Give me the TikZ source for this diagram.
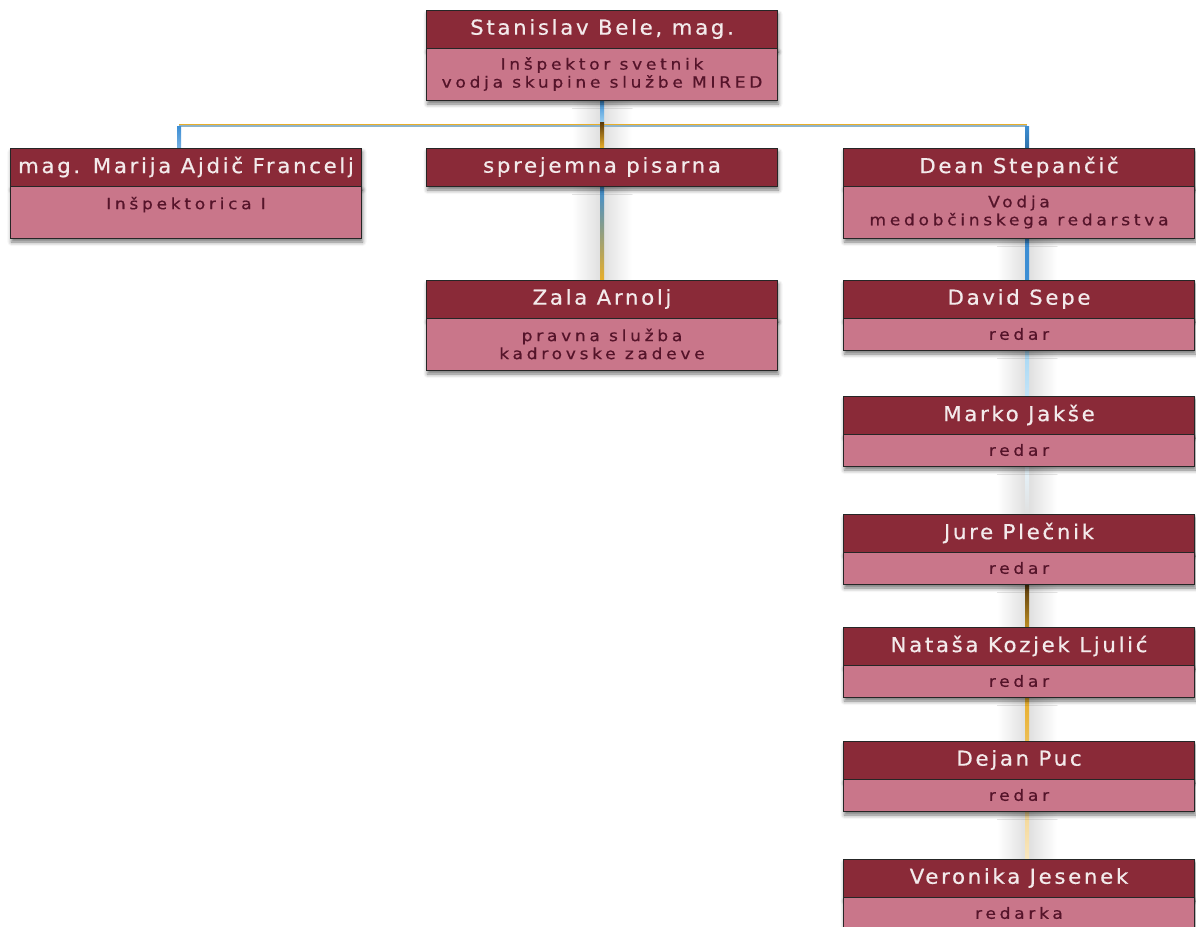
\documentclass[tikz,border=0pt]{standalone}
\usepackage{fontspec}
\newfontfamily\headfont{DejaVu Sans}[FakeStretch=1.04, FakeBold=0.6, LetterSpace=13]
\newfontfamily\rolefont{DejaVu Sans}[FakeStretch=1.1, FakeBold=0.6, LetterSpace=24]
\usetikzlibrary{positioning,shadows.blur,backgrounds}

\definecolor{headred}{HTML}{8A2A38}
\definecolor{rolepink}{HTML}{C9768A}
\definecolor{roletext}{HTML}{55142A}
\definecolor{linkblue}{HTML}{3C8ED4}
\definecolor{linksky}{HTML}{A8D8F4}
\definecolor{linkgold}{HTML}{E8AE2A}
\definecolor{linkbrown}{HTML}{5A3A0C}
\definecolor{busblue}{HTML}{8FB4CA}

\begin{document}
\begin{tikzpicture}[x=1pt,y=-1pt,
    box/.style={draw=black!85, line width=1pt, inner sep=0pt, outer sep=0pt,
        minimum width=351pt,
        blur shadow={shadow xshift=1pt, shadow yshift=-4pt, shadow blur radius=4pt, shadow opacity=55}},
    head/.style={box, fill=headred, text=white!90!headred, minimum height=38pt,
        font=\headfont\fontsize{20.5}{23}\selectfont},
    role/.style={box, fill=rolepink, text=roletext, minimum height=32pt, align=center,
        font=\rolefont\fontsize{15.5}{18}\selectfont},
    tall/.style={minimum height=52pt},
    glow/.style={left color=white, right color=white, middle color=black!13}]

    \useasboundingbox (0,0) rectangle (1196,926);

    % Head of the service
    \node[head] (bele) at (602,29) {Stanislav Bele, mag.};
    \node[role, tall, below=0pt of bele] (bele-r) {Inšpektor svetnik\\vodja skupine službe MIRED};

    % Second row
    \node[head] (marija) at (186,167) {mag. Marija Ajdič Francelj};
    \node[role, tall, below=0pt of marija] (marija-r) {Inšpektorica I\\\mbox{}};
    \node[head] (sprej) at (602,167) {sprejemna pisarna};
    \node[head] (dean) at (1019,167) {Dean Stepančič};
    \node[role, tall, below=0pt of dean] (dean-r) {Vodja\\medobčinskega redarstva};

    % Under the office
    \node[head] (zala) at (602,299) {Zala Arnolj};
    \node[role, tall, below=0pt of zala] (zala-r) {pravna služba\\kadrovske zadeve};

    % Wardens
    \node[head] (david) at (1019,299) {David Sepe};
    \node[role, below=0pt of david] (david-r) {redar};
    \node[head] (marko) at (1019,415) {Marko Jakše};
    \node[role, below=0pt of marko] (marko-r) {redar};
    \node[head] (jure) at (1019,533) {Jure Plečnik};
    \node[role, below=0pt of jure] (jure-r) {redar};
    \node[head] (natasa) at (1019,646) {Nataša Kozjek Ljulić};
    \node[role, below=0pt of natasa] (natasa-r) {redar};
    \node[head] (dejan) at (1019,760) {Dejan Puc};
    \node[role, below=0pt of dejan] (dejan-r) {redar};
    \node[head] (veronika) at (1019,878) {Veronika Jesenek};
    \node[role, below=0pt of veronika] (veronika-r) {redarka};

    % Connectors behind the boxes
    \begin{pgfonlayer}{background}
        \coordinate (bus) at (602,126);
        \coordinate (bus-l) at (179,126);
        \coordinate (bus-r) at (1027,126);

        \shade[glow] ([xshift=-30pt,yshift=9pt]bele-r.south) rectangle ([xshift=30pt]sprej.north);
        \shade[glow] ([xshift=-30pt,yshift=9pt]sprej.south) rectangle ([xshift=30pt]zala.north);
        \foreach \a/\b in {dean-r/david, david-r/marko, marko-r/jure, jure-r/natasa, natasa-r/dejan, dejan-r/veronika}
            \shade[glow] ([xshift=-22pt,yshift=9pt]\a.south) rectangle ([xshift=38pt]\b.north);

        \shade[top color=linkblue, bottom color=linksky] ([xshift=-2pt]bele-r.south) rectangle ([xshift=2pt]bus);
        \draw[linkgold, line width=0.8pt] ([yshift=2pt]bus-l) -- ([yshift=2pt]bus-r);
        \draw[busblue, line width=2.4pt] (bus-l) -- (bus-r);
        \shade[top color=linkblue, bottom color=linkblue!70] ([xshift=-2pt]bus-l) rectangle ([xshift=2pt]bus-l |- marija.north);
        \shade[top color=linkbrown, bottom color=linkgold] ([xshift=-2pt,yshift=4pt]bus) rectangle ([xshift=2pt]sprej.north);
        \shade[top color=linkblue, bottom color=linkblue!80!black] ([xshift=-2pt]bus-r) rectangle ([xshift=2pt]bus-r |- dean.north);
        \shade[top color=linkblue, middle color=linksky!40, bottom color=linkgold] ([xshift=-2pt]sprej.south) rectangle ([xshift=2pt]zala.north);

        % Right column
        \shade[top color=linkblue, bottom color=linkblue] ([xshift=6pt]dean-r.south) rectangle ([xshift=10pt]david.north);
        \shade[top color=linksky, bottom color=linksky!70] ([xshift=6pt]david-r.south) rectangle ([xshift=10pt]marko.north);
        \shade[top color=linksky!30, bottom color=black!12] ([xshift=6pt]marko-r.south) rectangle ([xshift=10pt]jure.north);
        \shade[top color=linkbrown, bottom color=linkgold!80!black] ([xshift=6pt]jure-r.south) rectangle ([xshift=10pt]natasa.north);
        \shade[top color=linkgold, bottom color=linkgold!80] ([xshift=6pt]natasa-r.south) rectangle ([xshift=10pt]dejan.north);
        \shade[top color=linkgold!50, bottom color=linkgold!30] ([xshift=6pt]dejan-r.south) rectangle ([xshift=10pt]veronika.north);
    \end{pgfonlayer}
\end{tikzpicture}
\end{document}
